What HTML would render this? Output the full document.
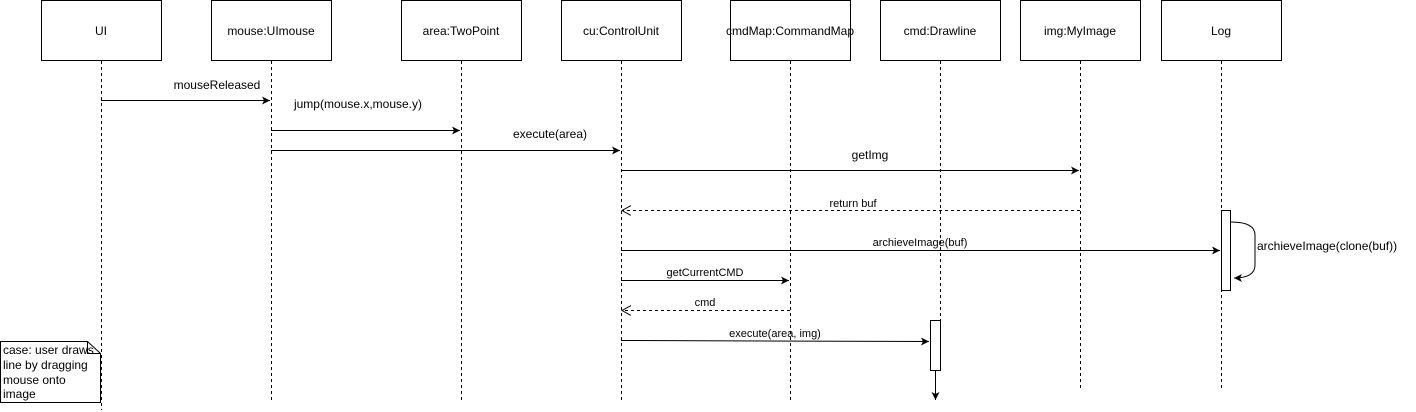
<!DOCTYPE html>
<html><head><style>
html,body{margin:0;padding:0;background:#fff;}
svg{display:block;font-family:"Liberation Sans",Arial,sans-serif;}
</style></head><body>
<svg width="1416" height="412" viewBox="0 0 1416 412" xmlns="http://www.w3.org/2000/svg">
<defs>
<marker id="a" markerWidth="10" markerHeight="10" refX="8" refY="5" orient="auto" markerUnits="userSpaceOnUse"><path d="M0,1 L8,5 L0,9 L2,5 Z" fill="#000"/></marker>
<marker id="o" markerWidth="12" markerHeight="12" refX="9" refY="5" orient="auto" markerUnits="userSpaceOnUse"><path d="M0,0 L9,5 L0,10" fill="none" stroke="#000"/></marker>
</defs>
<g fill="#fff" stroke="#000" stroke-width="1">
<rect x="41.5" y="0.5" width="120" height="60"/>
<rect x="211.5" y="0.5" width="120" height="60"/>
<rect x="401.5" y="0.5" width="120" height="60"/>
<rect x="561.5" y="0.5" width="120" height="60"/>
<rect x="730.5" y="0.5" width="120" height="60"/>
<rect x="880.5" y="0.5" width="120" height="60"/>
<rect x="1020.5" y="0.5" width="120" height="60"/>
<rect x="1161.5" y="0.5" width="120" height="60"/>
</g>
<g font-size="12" text-anchor="middle" fill="#000">
<text x="101" y="35">UI</text>
<text x="271" y="35">mouse:UImouse</text>
<text x="461" y="35">area:TwoPoint</text>
<text x="621" y="35">cu:ControlUnit</text>
<text x="790" y="35">cmdMap:CommandMap</text>
<text x="940" y="35">cmd:Drawline</text>
<text x="1080" y="35">img:MyImage</text>
<text x="1221" y="35">Log</text>
</g>
<g stroke="#000" stroke-dasharray="3,3" fill="none">
<line x1="101.5" y1="61" x2="101.5" y2="410"/>
<line x1="271.5" y1="61" x2="271.5" y2="400"/>
<line x1="461.5" y1="61" x2="461.5" y2="400"/>
<line x1="621.5" y1="61" x2="621.5" y2="400"/>
<line x1="790.5" y1="61" x2="790.5" y2="400"/>
<line x1="940.5" y1="61" x2="940.5" y2="320"/>
<line x1="1080.5" y1="61" x2="1080.5" y2="390"/>
<line x1="1221.5" y1="61" x2="1221.5" y2="390"/>
</g>
<g stroke="#000" fill="none">
<line x1="101" y1="100.5" x2="270" y2="100.5" marker-end="url(#a)"/>
<line x1="271" y1="130.5" x2="460" y2="130.5" marker-end="url(#a)"/>
<line x1="271" y1="150.5" x2="620" y2="150.5" marker-end="url(#a)"/>
<line x1="621" y1="170.5" x2="1079" y2="170.5" marker-end="url(#a)"/>
<line x1="1080" y1="210.5" x2="622" y2="210.5" stroke-dasharray="3,3" marker-end="url(#o)"/>
<line x1="621" y1="250.5" x2="1220" y2="250.5" marker-end="url(#a)"/>
<line x1="621" y1="280.5" x2="789" y2="280.5" marker-end="url(#a)"/>
<line x1="790" y1="310.5" x2="622" y2="310.5" stroke-dasharray="3,3" marker-end="url(#o)"/>
<line x1="621" y1="340.5" x2="929" y2="341.5" marker-end="url(#a)"/>
<path d="M1231,222 Q1255,222 1255,235 L1255,265 Q1255,278 1234,278" marker-end="url(#a)"/>
<line x1="935.5" y1="371" x2="935.5" y2="400" marker-end="url(#a)"/>
</g>
<rect x="1221.5" y="210.5" width="9" height="80" fill="#fff" stroke="#000"/>
<rect x="930.5" y="320.5" width="10" height="50" fill="#fff" stroke="#000"/>
<g fill="#000" text-anchor="middle">
<text x="217" y="89" font-size="12">mouseReleased</text>
<text x="358" y="108" font-size="12">jump(mouse.x,mouse.y)</text>
<text x="550" y="138" font-size="12">execute(area)</text>
<text x="870" y="159" font-size="12">getImg</text>
<text x="853" y="207" font-size="11">return buf</text>
<text x="920" y="246" font-size="11">archieveImage(buf)</text>
<text x="705" y="276" font-size="11">getCurrentCMD</text>
<text x="705" y="306" font-size="11">cmd</text>
<text x="775" y="337" font-size="11">execute(area, img)</text>
</g>
<text x="1257" y="250" font-size="12" fill="#000">archieveImage(clone(buf))</text>
<path d="M0.5,341.5 L87.5,341.5 L100.5,353.5 L100.5,402.5 L0.5,402.5 Z" fill="#fff" stroke="#000"/>
<path d="M87.5,341.5 L87.5,353.5 L100.5,353.5" fill="none" stroke="#000"/>
<g font-size="12" fill="#000">
<text x="3" y="354">case: user draws</text>
<text x="3" y="369">line by dragging</text>
<text x="3" y="384">mouse onto</text>
<text x="3" y="398">image</text>
</g>
</svg>
</body></html>
